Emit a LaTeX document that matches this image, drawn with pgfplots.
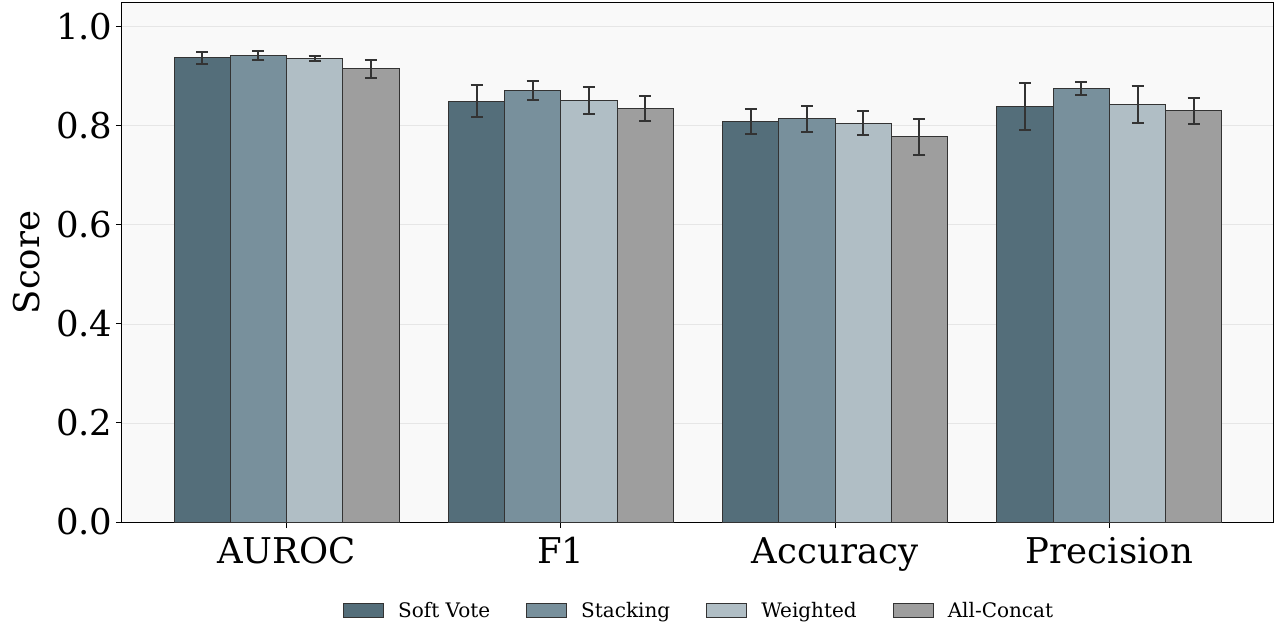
\documentclass[border=0pt]{standalone}
\usepackage{fontspec}
\setmainfont{DejaVu Serif}
\usepackage{pgfplots}
\pgfplotsset{compat=1.18}
\definecolor{cSV}{HTML}{546E7A}
\definecolor{cST}{HTML}{78909C}
\definecolor{cWE}{HTML}{B0BEC5}
\definecolor{cAC}{HTML}{9E9E9E}
\definecolor{edge}{HTML}{333333}
\definecolor{bg}{HTML}{F9F9F9}
\definecolor{gridc}{HTML}{E6E6E6}
\begin{document}
\begin{tikzpicture}
\path[use as bounding box] (-122pt,-105pt) rectangle (1153pt,522pt);
\begin{axis}[
  scale only axis, width=1152pt, height=519pt,
  xmin=-0.6, xmax=3.6, ymin=0, ymax=1.048,
  axis background/.style={fill=bg},
  axis line style={black, line width=1pt},
  ybar, bar width=0.205,
  xtick={0,1,2,3},
  xticklabels={AUROC,F1,Accuracy,Precision},
  ytick={0,0.2,0.4,0.6,0.8,1.0},
  yticklabel style={/pgf/number format/.cd,fixed,fixed zerofill,precision=1},
  /pgf/number format/assume math mode=true,
  tick align=outside, tick pos=left,
  major tick length=6pt,
  tick style={black, line width=1pt},
  ymajorgrids, grid style={gridc, line width=0.8pt},
  ticklabel style={font=\fontsize{35.5}{42}\selectfont},
  xticklabel style={yshift=-6pt},
  ylabel={Score},
  ylabel style={font=\fontsize{35.5}{42}\selectfont, at={(axis description cs:-0.0825,0.5)}, anchor=center},
  legend columns=4,
  legend style={at={(axis description cs:0.501,-0.17)}, anchor=center, draw=none, fill=none,
    font=\fontsize{20}{24}\selectfont,
    /tikz/every even column/.append style={column sep=34pt}},
  legend image code/.code={\draw[#1, draw=edge, line width=1pt] (0pt,-7pt) rectangle (40pt,7pt);
     \path (52pt,0pt);},
  error bars/error bar style={edge, line width=2pt},
  error bars/error mark options={edge, line width=2pt, mark size=6pt, rotate=90},
]
\addplot+[bar shift=-0.3075, fill=cSV, draw=edge, line width=1pt,
  error bars/.cd, y dir=both, y explicit]
  coordinates {(0,0.937)+-(0,0.012) (1,0.850)+-(0,0.033) (2,0.809)+-(0,0.025) (3,0.839)+-(0,0.048)};
\addplot+[bar shift=-0.1025, fill=cST, draw=edge, line width=1pt,
  error bars/.cd, y dir=both, y explicit]
  coordinates {(0,0.942)+-(0,0.009) (1,0.871)+-(0,0.019) (2,0.814)+-(0,0.026) (3,0.875)+-(0,0.013)};
\addplot+[bar shift=0.1025, fill=cWE, draw=edge, line width=1pt,
  error bars/.cd, y dir=both, y explicit]
  coordinates {(0,0.935)+-(0,0.005) (1,0.851)+-(0,0.027) (2,0.805)+-(0,0.024) (3,0.843)+-(0,0.038)};
\addplot+[bar shift=0.3075, fill=cAC, draw=edge, line width=1pt,
  error bars/.cd, y dir=both, y explicit]
  coordinates {(0,0.915)+-(0,0.018) (1,0.835)+-(0,0.025) (2,0.778)+-(0,0.036) (3,0.830)+-(0,0.026)};
\legend{Soft Vote,Stacking,Weighted,All-Concat}
\end{axis}
\end{tikzpicture}
\end{document}
